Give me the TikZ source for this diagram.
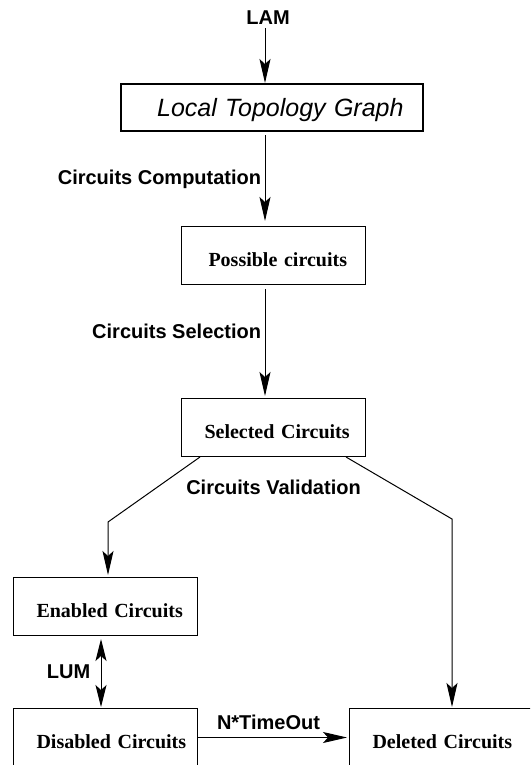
\documentclass[tikz,border=0pt]{standalone}
\usepackage{fontspec}
\setmainfont{Liberation Serif}
\setsansfont{Liberation Sans}
\usetikzlibrary{arrows.meta,positioning}

\tikzset{
  lbl/.style={font=\sffamily\bfseries\fontsize{20}{24}\selectfont},
  flow/.style={-{Stealth[length=24pt,width=11pt,inset=5pt]}, line width=1pt},
  dflow/.style={{Stealth[length=22pt,width=11pt,inset=5pt]}-{Stealth[length=22pt,width=11pt,inset=5pt]}, line width=1pt},
  stage/.style={draw, line width=1pt, anchor=north west, inner xsep=0pt, inner ysep=0pt,
    text width=184pt, align=left, text height=40pt, text depth=18pt,
    font=\rmfamily\bfseries\fontsize{20}{24}\selectfont,
    execute at begin node={\hspace*{23pt}}},
  graphbox/.style={draw, line width=2.2pt, anchor=north west, inner xsep=0pt, inner ysep=0pt,
    text width=302pt, align=left, text height=32pt, text depth=15pt,
    font=\sffamily\itshape\fontsize{25}{30}\selectfont,
    execute at begin node={\hspace*{36pt}}}
}

\begin{document}
\begin{tikzpicture}[x=1pt, y=-1pt]
\useasboundingbox (0,0) rectangle (530,765);
\clip (0,0) rectangle (530,765);

\coordinate (spine) at (265,0);
\coordinate (lbend) at (108,522);
\coordinate (rbend) at (452,519);
\coordinate (lumx) at (101,0);

% boxes
\node[lbl] (lam) at (268,18) {LAM};
\node[graphbox] (ltg) at (120,83) {Local Topology Graph};
\node[stage] (poss) at (181,226) {\hspace*{4pt}Possible circuits};
\node[stage] (sel) at (181,398) {Selected Circuits};
\node[stage] (enab) at (13,577) {Enabled Circuits};
\node[stage] (dis) at (13,708) {Disabled Circuits};
\node[stage] (del) at (349,708) {Deleted Circuits};
\node[lbl, below=19pt of sel] (valid) {Circuits Validation};

% connectors
\draw[flow] (lam.south -| spine) -- (ltg.north -| spine);
\draw[flow, shorten <=3pt, shorten >=5pt] (ltg.south -| spine)
  -- node[lbl, left] {Circuits Computation} (poss.north -| spine);
\draw[flow, shorten <=4pt, shorten >=2pt] (poss.south -| spine)
  -- node[lbl, left, pos=0.41] {Circuits Selection} (sel.north -| spine);
\draw[flow, shorten >=2pt] ([xshift=19pt]sel.south west) -- (lbend) -- (lbend |- enab.north);
\draw[flow, shorten >=1pt] ([xshift=-20pt]sel.south east) -- (rbend) -- (rbend |- del.north);
\draw[dflow, shorten <=3pt, shorten >=1pt] (enab.south -| lumx)
  -- node[lbl, left=7pt] {LUM} (dis.north -| lumx);
\draw[flow, shorten >=2pt] (dis.east)
  -- node[lbl, above, yshift=4pt, xshift=-5pt] {N*TimeOut} (del.west);
\end{tikzpicture}
\end{document}
